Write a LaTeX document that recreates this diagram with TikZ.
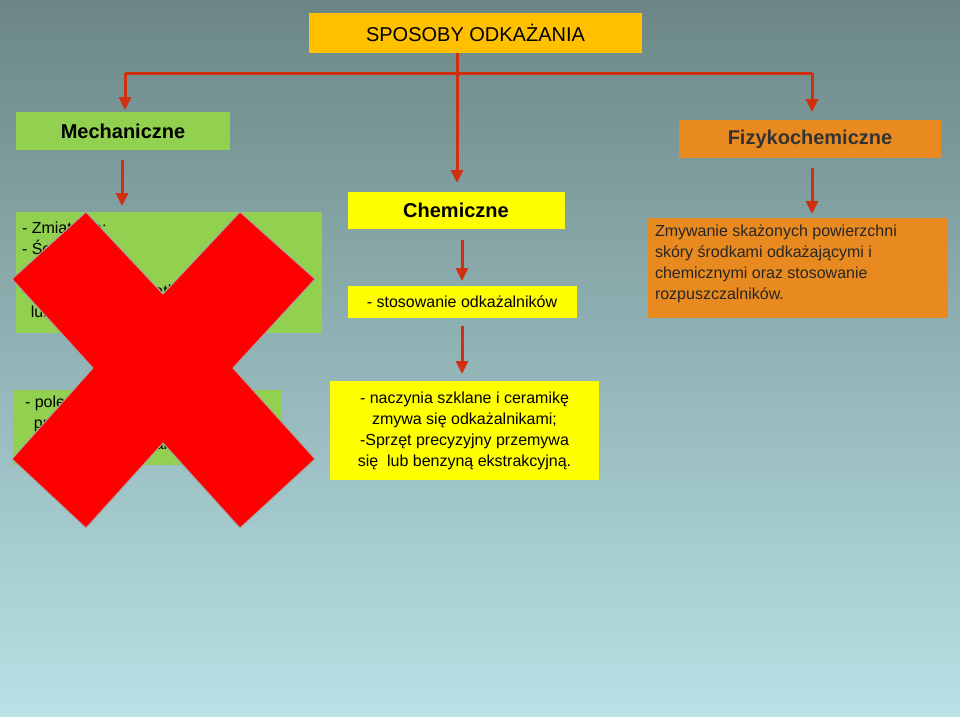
\documentclass[tikz,border=0pt]{standalone}
\usepackage{fontspec}
\usetikzlibrary{arrows.meta}
\setmainfont{Liberation Sans}
\begin{document}
\begin{tikzpicture}[x=1pt,y=-1pt,
  box/.style={anchor=north west,inner sep=0pt,outer sep=0pt},
  body/.style={font=\fontsize{16}{21}\selectfont},
  head/.style={font=\fontsize{20}{24}\selectfont\bfseries},
  arr/.style={draw=linered,line width=3pt,-{Triangle[length=13pt,width=12pt]}},
  ln/.style={draw=linered,line width=3pt}]
\definecolor{bgtop}{RGB}{108,134,134}
\definecolor{bgbot}{RGB}{184,226,230}
\definecolor{gr}{RGB}{146,208,80}
\definecolor{ye}{RGB}{255,255,0}
\definecolor{tit}{RGB}{255,192,0}
\definecolor{orn}{RGB}{233,138,32}
\definecolor{linered}{RGB}{208,48,16}
\definecolor{xred}{RGB}{255,0,0}
\shade[top color=bgtop,bottom color=bgbot] (0,0) rectangle (960,716);
\useasboundingbox (0,0) rectangle (960,716);
% boxes
\fill[tit] (309,13) rectangle (642,53);
\node[font=\fontsize{20}{24}\selectfont] (title) at (475.5,33) {SPOSOBY ODKAŻANIA};
\coordinate (tb) at (457,53);
\fill[gr] (16,112) rectangle (230,150);
\node[head] (mech) at (123,131) {Mechaniczne};
\fill[ye] (348,192) rectangle (565,229);
\node[head] (chem) at (456,210.5) {Chemiczne};
\fill[orn] (679,120) rectangle (941,158);
\node[head,text=black!80] (fiz) at (810,139) {Fizykochemiczne};
\fill[gr] (16,212) rectangle (322,333);
\node[box,body,align=left] (mt) at (22,222) {- Zmiatanie;\\- Ścieranie;\\- Odkurzanie\\- Przecieranie szmatką\\\ \ lub wycieranie wilgotną;};
\fill[ye] (348,286) rectangle (577,318);
\node[body] (ct) at (462,302) {- stosowanie odkażalników};
\fill[orn] (648,218) rectangle (948,318);
\node[box,body,align=left,text=black!85] (ft) at (655,225) {Zmywanie skażonych powierzchni\\skóry środkami odkażającymi i\\chemicznymi oraz stosowanie\\rozpuszczalników.};
\fill[gr] (13,390) rectangle (282,465);
\node[box,body,align=left] (mt2) at (25,396) {- polewanie wodą lub\\\ \ przecieranie\\\ \ ręcznie lub mechanicznie};
\fill[ye] (330,381) rectangle (599,480);
\node[body,align=center] (ct2) at (464.5,430.5) {- naczynia szklane i ceramikę\\zmywa się odkażalnikami;\\-Sprzęt precyzyjny przemywa\\się\ \ lub benzyną ekstrakcyjną.};
% connectors
\coordinate (jl) at (125,73); \coordinate (jr) at (812,73); \coordinate (jm) at (457,73);
\draw[ln] (tb) -- (jm);
\draw[ln] (jl) -- (jr);
\coordinate (m1) at (125,110); \coordinate (c1) at (457,183); \coordinate (f1) at (812,112);
\draw[arr] (jl) -- (m1);
\draw[arr] (jm) -- (c1);
\draw[arr] (jr) -- (f1);
\coordinate (m2a) at (122,160); \coordinate (m2b) at (122,206);
\coordinate (f2a) at (812,168); \coordinate (f2b) at (812,214);
\coordinate (c2a) at (462,240); \coordinate (c2b) at (462,281);
\coordinate (c3a) at (462,326); \coordinate (c3b) at (462,374);
\draw[arr] (m2a) -- (m2b);
\draw[arr] (f2a) -- (f2b);
\draw[arr] (c2a) -- (c2b);
\draw[arr] (c3a) -- (c3b);
% red X
\fill[xred,draw=gray!70,line width=1pt] (86,212) -- (163,294) -- (240,212) -- (315,279) -- (233,368) -- (315,459) -- (240,528) -- (163,443) -- (86,528) -- (12,459) -- (93,368) -- (12,279) -- cycle;
\end{tikzpicture}
\end{document}
